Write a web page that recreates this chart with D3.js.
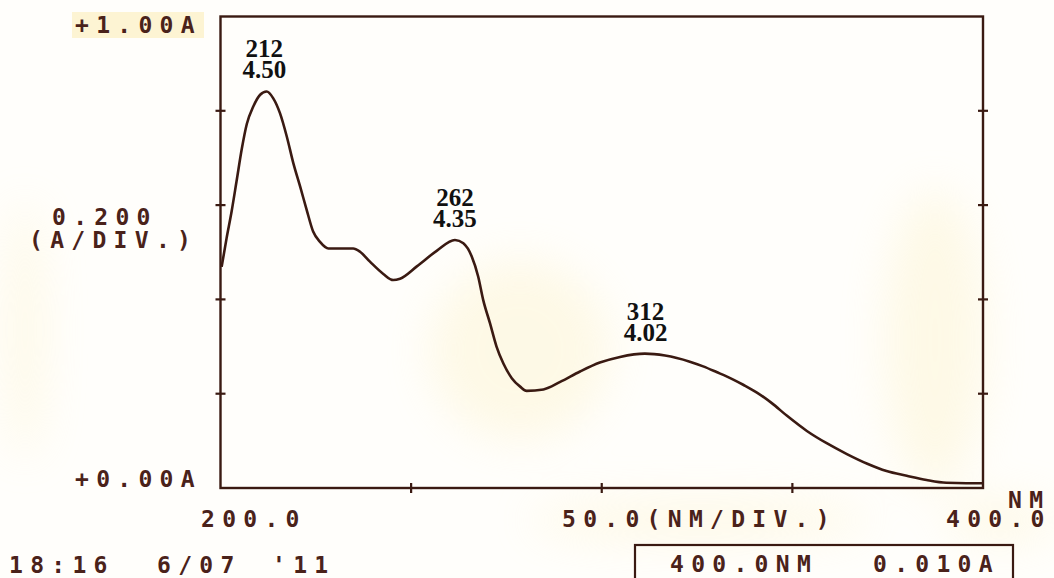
<!DOCTYPE html>
<html>
<head>
<meta charset="utf-8">
<script src="https://cdn.jsdelivr.net/npm/d3@7"></script>
<style>
  html, body { margin: 0; padding: 0; background: #ffffff; }
  svg { display: block; }
</style>
</head>
<body>
<svg id="chart" width="1054" height="578"></svg>
<script>
// ---- data ----
const wavelengthNm = [200.3, 201.6, 202.9, 204.2, 205.6, 206.9, 208.6, 210.4, 212.1, 213.8,
  215.6, 217.4, 219.1, 220.9, 222.6, 224.3, 226.1, 228.3, 234.8, 236.6,
  239.2, 242.7, 245.3, 247.1, 251.5, 256.7, 261.5, 263.7, 265.9, 267.6,
  268.9, 270.7, 272.4, 274.2, 276.4, 278.6, 280.3, 284.7, 289.1, 294.3,
  299.5, 304.8, 311.3, 316.6, 323.1, 326.6, 330.1, 334.5, 337.1, 340.6,
  344.6, 348.6, 353.8, 359.0, 364.3, 369.5, 374.7, 380.0, 385.2, 390.4,
  395.7, 400.0];
const absorbance = [0.469, 0.530, 0.586, 0.650, 0.720, 0.772, 0.809, 0.834, 0.841, 0.827,
  0.795, 0.745, 0.689, 0.639, 0.590, 0.544, 0.522, 0.508, 0.508, 0.501,
  0.480, 0.454, 0.441, 0.444, 0.470, 0.503, 0.526, 0.519, 0.491, 0.448,
  0.399, 0.349, 0.300, 0.264, 0.233, 0.215, 0.206, 0.209, 0.225, 0.247,
  0.266, 0.278, 0.285, 0.281, 0.268, 0.258, 0.246, 0.230, 0.219, 0.203,
  0.180, 0.153, 0.121, 0.095, 0.072, 0.052, 0.036, 0.026, 0.017, 0.011,
  0.010, 0.010];
const peakNm = [212, 262, 312];
const peakAbs = [0.841, 0.526, 0.285];
const peakLabelTop = ["212", "262", "312"];
const peakLabelBottom = ["4.50", "4.35", "4.02"];
const xTickValues = [250, 300, 350];
const yTickValues = [0.2, 0.4, 0.6, 0.8];

// ---- layout ----
const svg = d3.select("#chart");
const W = 1054, H = 578;
const plot = { left: 220.5, right: 983, top: 16.5, bottom: 488 };
const ink = "#3a1a12";
const textInk = "#4a221a";
const monoFont = "'DejaVu Sans Mono', monospace";
const serifFont = "'Liberation Serif', 'Times New Roman', serif";

const x = d3.scaleLinear().domain([200, 400]).range([plot.left, plot.right]);
const y = d3.scaleLinear().domain([0, 1]).range([plot.bottom, plot.top]);

// paper background with faint yellow patches
svg.append("rect").attr("width", W).attr("height", H).attr("fill", "#fffefb");
const defs = svg.append("defs");
defs.append("filter").attr("id", "blur").attr("x", "-50%").attr("y", "-50%")
  .attr("width", "200%").attr("height", "200%")
  .append("feGaussianBlur").attr("stdDeviation", 22);
const patches = svg.append("g").attr("filter", "url(#blur)").attr("fill", "#fcf0c0").attr("opacity", 0.35);
patches.append("ellipse").attr("cx", 520).attr("cy", 350).attr("rx", 90).attr("ry", 90);
patches.append("ellipse").attr("cx", 700).attr("cy", 520).attr("rx", 170).attr("ry", 20);
patches.append("ellipse").attr("cx", 1000).attr("cy", 520).attr("rx", 55).attr("ry", 20);
patches.append("ellipse").attr("cx", 935).attr("cy", 340).attr("rx", 50).attr("ry", 150);
patches.append("ellipse").attr("cx", 25).attr("cy", 330).attr("rx", 18).attr("ry", 130);
// highlight behind top label
svg.append("rect").attr("x", 72).attr("y", 12).attr("width", 132).attr("height", 26)
  .attr("fill", "#fdf4d3");

// frame
svg.append("rect")
  .attr("x", plot.left).attr("y", plot.top)
  .attr("width", plot.right - plot.left).attr("height", plot.bottom - plot.top)
  .attr("fill", "none").attr("stroke", ink).attr("stroke-width", 2.4);

// ticks (crossing marks)
const ticks = svg.append("g").attr("stroke", ink).attr("stroke-width", 2.2);
ticks.selectAll("line.yl").data(yTickValues).join("line").attr("class", "yl")
  .attr("x1", plot.left - 5).attr("x2", plot.left + 5)
  .attr("y1", d => y(d)).attr("y2", d => y(d));
ticks.selectAll("line.yr").data(yTickValues).join("line").attr("class", "yr")
  .attr("x1", plot.right - 5).attr("x2", plot.right + 5)
  .attr("y1", d => y(d)).attr("y2", d => y(d));
ticks.selectAll("line.xb").data(xTickValues).join("line").attr("class", "xb")
  .attr("x1", d => x(d)).attr("x2", d => x(d))
  .attr("y1", plot.bottom - 5).attr("y2", plot.bottom + 5);

// spectrum
const pts = wavelengthNm.map((w, i) => [w, absorbance[i]]);
const line = d3.line().x(d => x(d[0])).y(d => y(d[1])).curve(d3.curveMonotoneX);
svg.append("path").datum(pts)
  .attr("d", line)
  .attr("fill", "none").attr("stroke", ink).attr("stroke-width", 2.6)
  .attr("stroke-linejoin", "round");

// peak labels (two lines in one text)
peakNm.forEach((p, i) => {
  const cx = x(p) - 2;
  const yTop = y(peakAbs[i]) - 34;
  const t = svg.append("text").attr("x", cx).attr("y", yTop)
    .attr("font-family", serifFont).attr("font-weight", "bold")
    .attr("font-size", 25).attr("fill", "#111").attr("text-anchor", "middle");
  t.append("tspan").attr("x", cx).attr("y", yTop).text(peakLabelTop[i]);
  t.append("tspan").attr("x", cx).attr("y", yTop + 21).text(peakLabelBottom[i]);
});

// dot-matrix style texts
function mono(txt, xx, yy, anchor) {
  return svg.append("text").attr("x", xx).attr("y", yy)
    .attr("font-family", monoFont).attr("font-size", 23)
    .attr("font-weight", "bold")
    .attr("letter-spacing", 7.3).attr("fill", textInk)
    .attr("text-anchor", anchor || "start")
    .style("white-space", "pre").text(txt);
}
mono("+1.00A", 75, 33);
mono("0.200", 52, 225);
mono("(A/DIV.)", 29, 248);
mono("+0.00A", 75, 487);
mono("200.0", 201, 527);
mono("50.0(NM/DIV.)", 562, 527);
mono("400.0", 946, 527);
mono("NM", 1008, 508);
mono("18:16", 9, 573);
mono("6/07", 157, 573);
mono("'11", 272, 573);

// status box
svg.append("rect").attr("x", 635).attr("y", 545).attr("width", 378).attr("height", 36)
  .attr("fill", "none").attr("stroke", ink).attr("stroke-width", 2.2);
mono("400.0NM", 670, 572);
mono("0.010A", 873, 572);
</script>
</body>
</html>
